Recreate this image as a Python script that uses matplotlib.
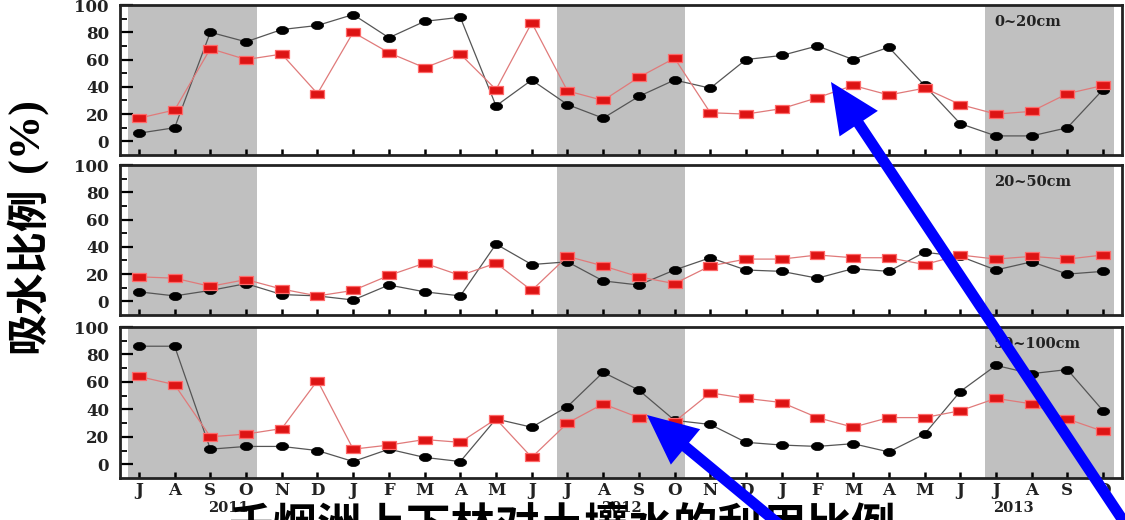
import numpy as np
import matplotlib
matplotlib.use("Agg")
import matplotlib.pyplot as plt
import matplotlib.patches as mpatches
from matplotlib.transforms import IdentityTransform, blended_transform_factory
from matplotlib.ticker import FixedLocator

# ---- data -------------------------------------------------------------
months = ["J", "A", "S", "O", "N", "D", "J", "F", "M", "A", "M", "J",
          "J", "A", "S", "O", "N", "D", "J", "F", "M", "A", "M", "J",
          "J", "A", "S", "O"]
years = ["2011", "2012", "2013"]
year_pos = [2.5, 13.5, 24.5]
shaded_months = [(0, 3), (12, 15), (24, 27)]
layers = ["0~20cm", "20~50cm", "50~100cm"]

dots_0_20 = [6, 10, 80, 73, 82, 85, 93, 76, 88, 91, 26, 45, 27, 17, 33, 45,
             39, 60, 63, 70, 60, 69, 41, 13, 4, 4, 10, 38]
squares_0_20 = [17, 23, 68, 60, 64, 35, 80, 65, 54, 64, 38, 87, 37, 30, 47, 61,
                21, 20, 24, 32, 41, 34, 39, 27, 20, 22, 35, 41]

dots_20_50 = [7, 4, 8, 13, 5, 4, 1, 12, 7, 4, 42, 27, 29, 15, 12, 23,
              32, 23, 22, 17, 24, 22, 36, 33, 23, 29, 20, 22]
squares_20_50 = [18, 17, 11, 16, 9, 4, 8, 19, 28, 19, 28, 8, 33, 26, 18, 13,
                 26, 31, 31, 34, 32, 32, 27, 34, 31, 33, 31, 34]

dots_50_100 = [86, 86, 11, 13, 13, 10, 2, 11, 5, 2, 33, 27, 42, 67, 54, 32,
               29, 16, 14, 13, 15, 9, 22, 53, 72, 66, 69, 39]
squares_50_100 = [64, 58, 20, 22, 26, 61, 11, 14, 18, 16, 33, 5, 30, 44, 34, 31,
                  52, 48, 45, 34, 27, 34, 34, 39, 48, 44, 33, 24]

dots = [dots_0_20, dots_20_50, dots_50_100]
squares = [squares_0_20, squares_20_50, squares_50_100]

y_label_cn = "吸水比例"
y_label_unit = "(%)"
caption = "千烟洲上下林对土壤水的利用比例"

# ---- style ------------------------------------------------------------
plt.rcParams["font.family"] = ["DejaVu Serif"]
plt.rcParams["font.weight"] = "bold"

W, H = 1125, 520
fig = plt.figure(figsize=(W / 100, H / 100), dpi=100)

# flattened marker shapes
t = np.linspace(0, 2 * np.pi, 41)
ellipse = list(zip(1.5 * np.cos(t), np.sin(t)))
rect = [(-1.85, -1), (1.85, -1), (1.85, 1), (-1.85, 1), (-1.85, -1)]

# panel extents in pixels (top, bottom)
extents = [(5, 155), (165, 315), (327, 478)]
left_px, right_px = 120, 1122

x = np.arange(len(months))
axes = []
for i, (top, bottom) in enumerate(extents):
    ax = fig.add_axes([left_px / W, 1 - bottom / H,
                       (right_px - left_px) / W, (bottom - top) / H])
    axes.append(ax)
    for a, b in shaded_months:
        ax.axvspan(a - 0.3, b + 0.3, color="#c0c0c0", lw=0, zorder=0)

    ax.plot(x, dots[i], color="#555555", lw=0.9, marker=ellipse,
            markersize=8.8, markerfacecolor="black", markeredgecolor="black",
            markeredgewidth=0.5, zorder=3)
    ax.plot(x, squares[i], color="#e07a7a", lw=0.9, marker=rect,
            markersize=9.6, markerfacecolor="#dd1414", markeredgecolor="#ff6a6a",
            markeredgewidth=0.9, zorder=4)

    ax.set_xlim(-0.53, 27.53)
    ax.set_ylim(-10, 100)
    ax.set_xticks(x)
    ax.set_yticks(range(0, 101, 20))
    ax.yaxis.set_minor_locator(FixedLocator([10, 30, 50, 70, 90]))
    ax.tick_params(axis="y", which="major", direction="in", length=9,
                   width=1.6, labelsize=12, pad=8, right=False,
                   labelcolor="#222222")
    ax.tick_params(axis="y", which="minor", direction="in", length=5,
                   width=1.3, right=False)
    ax.tick_params(axis="x", which="both", direction="in", length=4,
                   width=1.8, top=False, labelsize=12, pad=3,
                   labelcolor="#222222")
    for sp in ax.spines.values():
        sp.set_linewidth(2)
        sp.set_color("#222222")

    bt = blended_transform_factory(ax.transData, ax.transAxes)
    ax.text(23.95, 0.885, layers[i], transform=bt, ha="left", va="center",
            fontsize=10.5, fontweight="bold", color="#222222", zorder=5)

    if i < 2:
        ax.tick_params(axis="x", labelbottom=False)
    else:
        ax.set_xticklabels(months)
        for yr, pos in zip(years, year_pos):
            ax.text(pos, -0.2, yr, transform=bt, ha="center", va="center",
                    fontsize=10.5, fontweight="bold", color="#222222")

# y-axis title
fig.text(28 / W, (H - 353) / H, y_label_cn, rotation=90, ha="center",
         va="bottom", fontsize=30, fontweight="bold",
         family=["Noto Sans CJK SC", "DejaVu Sans"])
fig.text(28 / W, (H - 172) / H, y_label_unit, rotation=90, ha="center",
         va="bottom", fontsize=32, fontweight="bold",
         family=["Liberation Serif"])

# caption running off the lower edge
fig.text(0.5, (H - 505) / H, caption, ha="center", va="top", fontsize=32,
         fontweight="bold", family=["Noto Sans CJK SC", "DejaVu Sans"],
         zorder=6)

# blue pointer arrows (pixel coordinates, origin bottom-left)
arrows = [((1136, -20), (831, 438)), ((798, -20), (647, 105))]
for (x0, y0), (x1, y1) in arrows:
    arr = mpatches.FancyArrow(x0, y0, x1 - x0, y1 - y0, width=11,
                              head_width=46, head_length=50,
                              length_includes_head=True, color="#0000ff",
                              lw=0, transform=IdentityTransform(), zorder=10)
    fig.add_artist(arr)

fig.savefig("out.png", dpi=100)
